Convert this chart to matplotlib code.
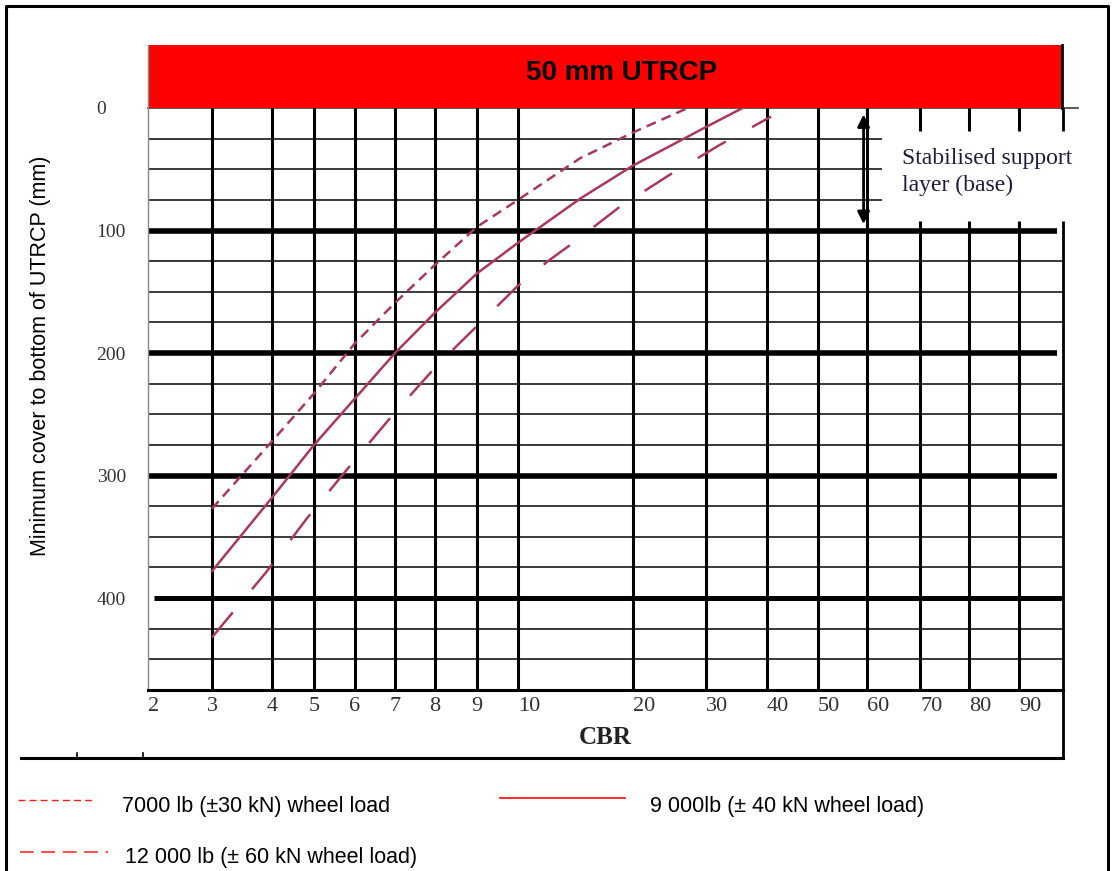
import numpy as np
import matplotlib
matplotlib.use("Agg")
import matplotlib.pyplot as plt
from matplotlib.lines import Line2D
from matplotlib.patches import Rectangle

# CBR nomograph scale (tick value -> place along the axis)
cbr_ticks = [2, 3, 4, 5, 6, 7, 8, 9, 10, 20, 30, 40, 50, 60, 70, 80, 90, 100]
cbr_pos = [148, 212, 272, 314, 355, 395, 435, 477, 518, 633, 706, 767, 818, 867, 920, 969, 1019, 1063]
tick_labels = ["2", "3", "4", "5", "6", "7", "8", "9", "10", "20", "30", "40", "50", "60", "70", "80", "90"]

cover_ticks = [0, 100, 200, 300, 400]

# curves: CBR vs minimum cover (mm)
cbr_7000 = [3, 4, 5, 6, 7, 8, 9, 10, 15.4, 20, 27.5]
cover_7000 = [327, 272, 233, 192, 159, 128, 97, 75, 41, 20, 0]
cbr_9000 = [3, 4, 5, 6, 7, 8, 9, 10, 15.4, 20, 30, 36]
cover_9000 = [378, 318, 275, 237, 200, 167, 135, 110, 74, 47, 15.5, 0]
cbr_12000 = [3, 3.9, 4.83, 5.83, 6.93, 8.05, 10, 12.6, 14.8, 18.8, 24.9, 32.3, 40.8]
cover_12000 = [432, 379, 335, 294, 251, 210, 145, 125, 110, 81, 55, 30, 7]

legend_labels = ["7000 lb (\u00b130 kN) wheel load",
                 "9 000lb (\u00b1 40 kN wheel load)",
                 "12 000 lb (\u00b1 60 kN wheel load)"]

curve_col = "#a8385e"
leg_col = "#ff1a1a"
W, H = 1114, 871


def fwd(x):
    return np.interp(x, cbr_ticks, cbr_pos)


def inv(p):
    return np.interp(p, cbr_pos, cbr_ticks)


fig = plt.figure(figsize=(W / 100, H / 100), dpi=100)
ax = fig.add_axes([148 / W, 181 / H, 915 / W, 582 / H])
ax.set_xscale("function", functions=(fwd, inv))
ax.set_xlim(2, 100)
ax.set_ylim(475, 0)

# grid: minor rows every 25 mm, heavy rows every 100 mm
for v in np.arange(25, 475, 25):
    if v % 100 == 0:
        continue
    x_end = 62.8 if v < 100 else 100
    ax.hlines(v, 2, x_end, color="#3a3a3a", lw=1.4, zorder=1)
ax.hlines([100, 200, 300], 2, 98.6, color="black", lw=4, zorder=2)
ax.hlines(400, 2.1, 100, color="black", lw=3.6, zorder=2)
ax.plot([0, 930 / 915], [1, 1], transform=ax.transAxes, color="#3a3a3a", lw=1.2,
        zorder=2, clip_on=False)

for c in cbr_ticks[1:-1]:
    if c <= 60:
        ax.vlines(c, 0, 475, color="black", lw=2.2, zorder=2)
    else:
        ax.vlines(c, 0, 19, color="black", lw=2.2, zorder=2)
        ax.vlines(c, 92, 475, color="black", lw=2.2, zorder=2)
ax.vlines(100, 0, 19, color="black", lw=2, zorder=2, clip_on=False)
ax.vlines(100, 92, 475, color="black", lw=2, zorder=2, clip_on=False)

# curves
ax.plot(cbr_7000, cover_7000, color=curve_col, lw=1.8, ls=(0, (4, 2.5)), zorder=4)
ax.plot(cbr_9000, cover_9000, color=curve_col, lw=1.8, zorder=4)
ax.plot(cbr_12000, cover_12000, color=curve_col, lw=1.8, ls=(0, (13, 12)), zorder=4)

# axes styling
for s in ["top", "right"]:
    ax.spines[s].set_visible(False)
ax.spines["left"].set_color("#888888")
ax.spines["left"].set_linewidth(1)
ax.spines["bottom"].set_linewidth(2.2)
ax.spines["bottom"].set_zorder(3)

ax.set_xticks(cbr_ticks[:-1])
ax.set_xticklabels(tick_labels, family="Liberation Serif", fontsize=16, color="#333333")
for lbl, c in zip(ax.get_xticklabels(), cbr_ticks):
    if c == 2 or c >= 10:
        lbl.set_ha("left")
ax.tick_params(axis="x", length=0, pad=5)
ax.minorticks_off()

ax.set_yticks(cover_ticks)
ax.set_yticklabels([str(v) for v in cover_ticks], family="Liberation Serif", fontsize=14, color="#333333")
for lbl in ax.get_yticklabels():
    lbl.set_ha("left")
ax.tick_params(axis="y", length=0, pad=37)

# red UTRCP layer above the chart
ax.add_patch(Rectangle((0, 1), 914 / 915, 63 / 582, transform=ax.transAxes,
                       facecolor="#ff0000", edgecolor="none", clip_on=False, zorder=3))
ax.plot([914 / 915, 914 / 915], [1, 1 + 63 / 582], transform=ax.transAxes,
        color="black", lw=2, clip_on=False, zorder=4)
ax.plot([0, 0], [1, 1 + 63 / 582], transform=ax.transAxes,
        color="#888888", lw=1, clip_on=False, zorder=4)
ax.text(0.518, 1 + 35 / 582, "50 mm UTRCP", transform=ax.transAxes, ha="center", va="center",
        family="Liberation Sans", fontweight="bold", fontsize=20, zorder=5)

# stabilised base arrow and note
ax.annotate("", xy=(59.3, 97), xytext=(59.3, 3),
            arrowprops=dict(arrowstyle="<|-|>", color="black", lw=2, mutation_scale=18), zorder=5)
ax.text(0.824, 1 - 64 / 582, "Stabilised support\nlayer (base)", transform=ax.transAxes,
        ha="left", va="center", family="Liberation Serif", fontsize=17, color="#1e1e3c",
        linespacing=1.4)

# labels
fig.text(41 / W, 1 - 356 / H, "Minimum cover to bottom of UTRCP (mm)", rotation=90,
         ha="center", va="center", family="Liberation Sans", fontsize=15.5)
fig.text(605 / W, 1 - 738 / H, "CBR", ha="center", va="center",
         family="Liberation Serif", fontweight="bold", fontsize=18, color="#222222")

# frame below the axis
fig.add_artist(Line2D([21 / W, 1063 / W], [1 - 758 / H, 1 - 758 / H], color="black", lw=2.2))
for xp in [77, 143]:
    fig.add_artist(Line2D([xp / W, xp / W], [1 - 758 / H, 1 - 753 / H], color="black", lw=1.2))
fig.add_artist(Line2D([1063 / W, 1063 / W], [1 - 758 / H, 181 / H], color="black", lw=2))

# outer page border
fig.add_artist(Line2D([6 / W, 6 / W, 1108 / W, 1108 / W], [0, 1 - 6 / H, 1 - 6 / H, 0],
                      color="black", lw=2.2))

# legend
fig.add_artist(Line2D([18 / W, 95 / W], [1 - 800 / H] * 2, color=leg_col, lw=1, ls=(0, (5, 3))))
fig.add_artist(Line2D([500 / W, 625 / W], [1 - 798 / H] * 2, color=leg_col, lw=1.3))
fig.add_artist(Line2D([20 / W, 108 / W], [1 - 852 / H] * 2, color=leg_col, lw=1.1, ls=(0, (9, 5))))
fig.text(122 / W, 1 - 806 / H, legend_labels[0], ha="left", va="center",
         family="Liberation Sans", fontsize=15.5)
fig.text(650 / W, 1 - 806 / H, legend_labels[1], ha="left", va="center",
         family="Liberation Sans", fontsize=15.5)
fig.text(125 / W, 1 - 857 / H, legend_labels[2], ha="left", va="center",
         family="Liberation Sans", fontsize=15.5)

fig.savefig("out.png", dpi=100)
